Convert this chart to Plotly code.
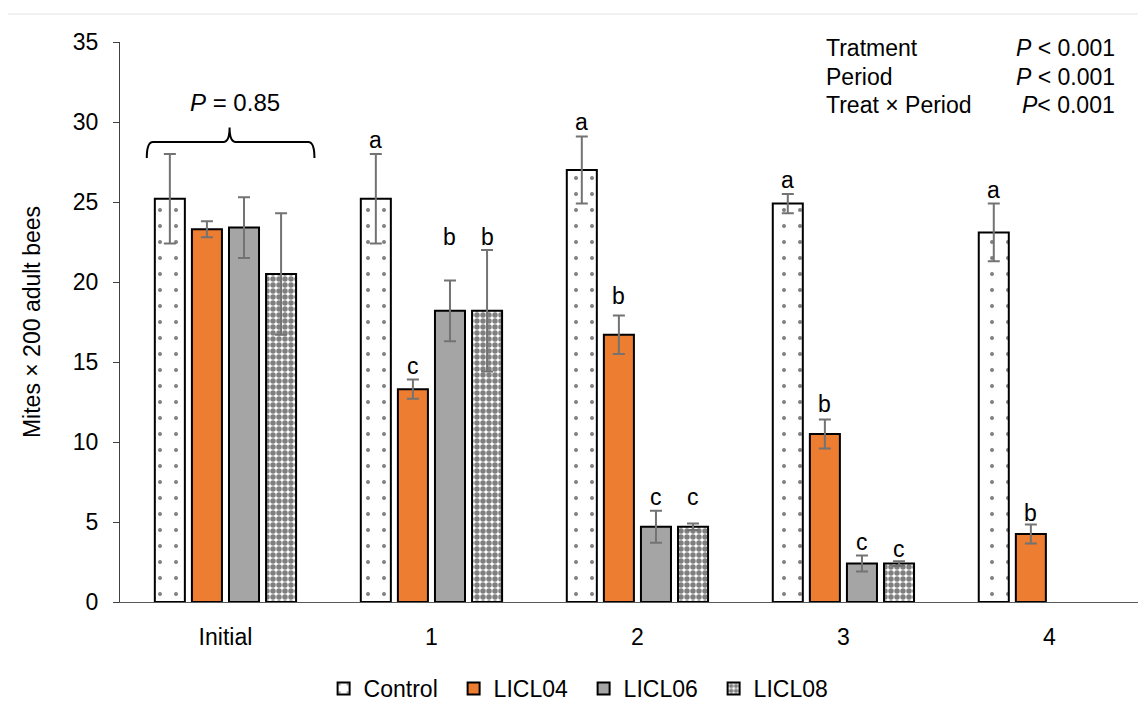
import plotly.graph_objects as go

# ---------------- data ----------------
periods = ["Initial", "1", "2", "3", "4"]
series_names = ["Control", "LICL04", "LICL06", "LICL08"]

control = [25.2, 25.2, 27.0, 24.9, 23.1]
control_err = [2.8, 2.8, 2.1, 0.6, 1.8]
licl04 = [23.3, 13.3, 16.7, 10.5, 4.25]
licl04_err = [0.5, 0.6, 1.2, 0.9, 0.6]
licl06 = [23.4, 18.2, 4.7, 2.4, None]
licl06_err = [1.9, 1.9, 1.0, 0.5, None]
licl08 = [20.5, 18.2, 4.7, 2.4, None]
licl08_err = [3.8, 3.8, 0.2, 0.15, None]

# significance letters and their heights (data units)
control_letters = [None, "a", "a", "a", "a"]
control_letter_y = [None, 28.9, 30.0, 26.4, 25.75]
licl04_letters = [None, "c", "b", "b", "b"]
licl04_letter_y = [None, 14.75, 19.1, 12.4, 5.56]
licl06_letters = [None, "b", "c", "c", None]
licl06_letter_y = [None, 22.8, 6.56, 3.75, None]
licl08_letters = [None, "b", "c", "c", None]
licl08_letter_y = [None, 22.8, 6.56, 3.3, None]

stats_terms = ["Tratment", "Period", "Treat × Period"]
stats_p = ["<i>P</i> < 0.001", "<i>P</i> < 0.001", "<i>P</i>< 0.001"]
initial_p = "<i>P</i> = 0.85"

# ---------------- styling ----------------
FONT = "Liberation Sans, Arial, sans-serif"
FS = 23
BARGAP = 0.28
BARGROUPGAP = 0.19
ERR_COLOR = "#737373"

xpos = list(range(len(periods)))

styles = [
    dict(color="white", pattern=dict(shape=".", size=16, solidity=0.05,
                                     fgcolor="black", bgcolor="white")),
    dict(color="#ED7D31"),
    dict(color="#A5A5A5"),
    dict(color="white", pattern=dict(shape=".", size=6, solidity=0.65,
                                     fgcolor="black", bgcolor="white")),
]
values = [control, licl04, licl06, licl08]
errors = [control_err, licl04_err, licl06_err, licl08_err]
letters = [control_letters, licl04_letters, licl06_letters, licl08_letters]
letter_ys = [control_letter_y, licl04_letter_y, licl06_letter_y, licl08_letter_y]

fig = go.Figure()
for name, vals, errs, st in zip(series_names, values, errors, styles):
    marker = dict(color=st["color"], line=dict(color="black", width=2))
    if "pattern" in st:
        marker["pattern"] = st["pattern"]
    fig.add_trace(go.Bar(
        x=xpos, y=vals, name=name, marker=marker,
        error_y=dict(type="data", array=errs, visible=True,
                     color=ERR_COLOR, thickness=2, width=6),
    ))

annotations = []
slot = (1 - BARGAP) / len(series_names)
for i, (labs, ys) in enumerate(zip(letters, letter_ys)):
    offset = (i - (len(series_names) - 1) / 2) * slot
    for j, (lab, yy) in enumerate(zip(labs, ys)):
        if lab is None:
            continue
        annotations.append(dict(
            x=xpos[j] + offset, y=yy, xref="x", yref="y", text=lab,
            showarrow=False, xanchor="center", yanchor="middle",
            font=dict(size=FS, family=FONT, color="black")))

stat_rows_y = [34.62, 32.82, 31.05]
for term, p, yy in zip(stats_terms, stats_p, stat_rows_y):
    annotations.append(dict(x=2.905, y=yy, xref="x", yref="y", text=term,
                            showarrow=False, xanchor="left", yanchor="middle",
                            font=dict(size=FS, family=FONT, color="black")))
    annotations.append(dict(x=4.33, y=yy, xref="x", yref="y", text=p,
                            showarrow=False, xanchor="right", yanchor="middle",
                            font=dict(size=FS, family=FONT, color="black")))

annotations.append(dict(x=0.046, y=31.25, xref="x", yref="y", text=initial_p,
                        showarrow=False, xanchor="center", yanchor="middle",
                        font=dict(size=24, family=FONT, color="black")))

# curly brace over the Initial group
bx0, bx1, bxm = -0.382, 0.432, 0.02
by0, by1, bytip = 27.75, 28.75, 29.65
dx = 0.03
brace = (f"M{bx0},{by0} Q{bx0},{by1} {bx0+dx},{by1} "
         f"L{bxm-dx},{by1} Q{bxm},{by1} {bxm},{bytip} "
         f"Q{bxm},{by1} {bxm+dx},{by1} "
         f"L{bx1-dx},{by1} Q{bx1},{by1} {bx1},{by0}")

shapes = [
    dict(type="path", path=brace, xref="x", yref="y",
         line=dict(color="black", width=2)),
    dict(type="line", xref="paper", yref="paper", x0=-0.12, x1=1.0,
         y0=1.05, y1=1.05, line=dict(color="#e3e3e3", width=1)),
]

fig.update_layout(
    width=1146, height=702,
    margin=dict(l=112, r=8, t=34, b=108, autoexpand=False),
    paper_bgcolor="white", plot_bgcolor="white",
    font=dict(family=FONT, size=FS, color="black"),
    barmode="group", bargap=BARGAP, bargroupgap=BARGROUPGAP,
    showlegend=True,
    legend=dict(orientation="h", xref="container", yref="container",
                x=0.2754, xanchor="left", y=0.0, yanchor="bottom",
                font=dict(size=FS, family=FONT),
                entrywidth=85, entrywidthmode="pixels",
                bgcolor="rgba(0,0,0,0)"),
    annotations=annotations,
    shapes=shapes,
)
fig.update_xaxes(range=[-0.512, 4.469], tickvals=xpos, ticktext=periods,
                 showline=True, linecolor="#595959", linewidth=1,
                 ticks="", showgrid=False, zeroline=False, automargin=False,
                 ticklabelstandoff=14)
fig.update_yaxes(range=[0, 35], dtick=5, tick0=0, ticks="outside", ticklen=6,
                 tickcolor="#404040", showline=True, linecolor="#404040",
                 linewidth=1, showgrid=False, zeroline=False, automargin=False,
                 ticklabelstandoff=10,
                 title=dict(text="Mites × 200 adult bees", standoff=25,
                            font=dict(size=FS, family=FONT)))

fig.write_html("out.html")
